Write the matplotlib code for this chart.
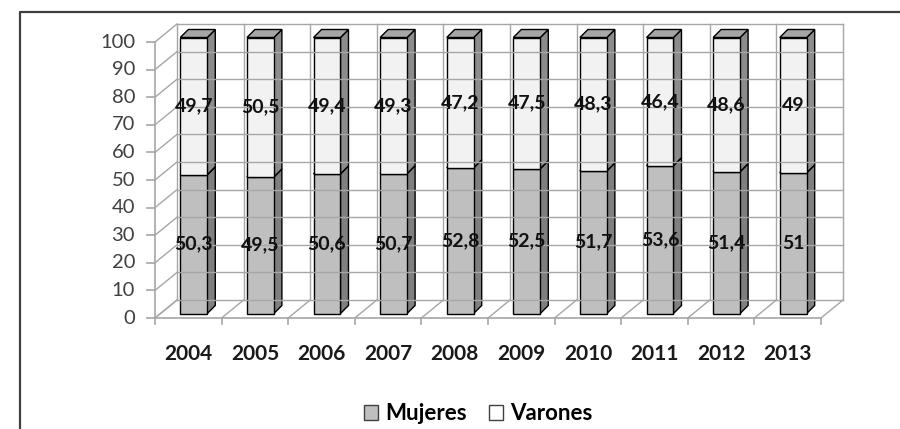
import matplotlib
matplotlib.use("Agg")
import matplotlib.pyplot as plt
from matplotlib.patches import Polygon, Patch
from matplotlib.lines import Line2D

# Datos
years = ["2004", "2005", "2006", "2007", "2008", "2009", "2010", "2011", "2012", "2013"]
mujeres = [50.3, 49.5, 50.6, 50.7, 52.8, 52.5, 51.7, 53.6, 51.4, 51]
varones = [49.7, 50.5, 49.4, 49.3, 47.2, 47.5, 48.3, 46.4, 48.6, 49]
yticks = list(range(0, 101, 10))

def fmt(v):
    s = ("%.1f" % v).rstrip("0").rstrip(".")
    return s.replace(".", ",")

fig = plt.figure(figsize=(9, 4.29), dpi=100)
ax = fig.add_axes([155 / 900, 111 / 429, 666 / 900, 276 / 429])
ax.set_xlim(-0.5, len(years) - 0.5)
ax.set_ylim(0, 100)
ax.axis("off")

# profundidad del efecto 3D (en unidades de datos)
DX = 22 / 66.6
DY = 18 / 2.76
grid_c = "#a6a6a6"
n = len(years)

# pared del fondo
for v in yticks:
    ax.plot([-0.5 + DX, n - 0.5 + DX], [v + DY, v + DY], color=grid_c, lw=1, clip_on=False)
    ax.plot([-0.5, -0.5 + DX], [v, v + DY], color=grid_c, lw=1, clip_on=False)
for k in range(n + 1):
    ax.plot([-0.5 + k + DX] * 2, [DY, 100 + DY], color=grid_c, lw=1, clip_on=False)
    ax.plot([-0.5 + k, -0.5 + k + DX], [0, DY], color=grid_c, lw=1, clip_on=False)

# ejes frontales
ax.plot([-0.5, n - 0.5], [0, 0], color=grid_c, lw=1.2, clip_on=False)
ax.plot([-0.5, -0.5], [0, 100], color=grid_c, lw=1.2, clip_on=False)
for v in yticks:
    ax.plot([-0.5 - 0.12, -0.5], [v, v], color=grid_c, lw=1.2, clip_on=False)
    ax.text(-0.5 - 0.3, v, str(v), ha="right", va="center", fontsize=14.5,
            color="#404040", family="Lato")
for k in range(n + 1):
    ax.plot([-0.5 + k] * 2, [0, -2], color=grid_c, lw=1.2, clip_on=False)
for i, y in enumerate(years):
    ax.text(i, -13, y, ha="center", va="center", fontsize=15, fontweight="bold",
            family="Lato", color="#1a1a1a")

# barras 3D
w = 0.405
bx = 0.25 * DX
by = 0.25 * DY
ddx = 8 / 66.6
ddy = 8 / 2.76
styles = [("#bfbfbf", "#7f7f7f", "#a6a6a6"), ("#f2f2f2", "#8c8c8c", "#a6a6a6")]

for i in range(n):
    bottom = 0
    for vals, (front, side, top) in zip([mujeres, varones], styles):
        v = vals[i]
        xl = i - w / 2 + bx
        xr = i + w / 2 + bx
        y0 = by + bottom
        y1 = by + bottom + v
        ax.add_patch(Polygon([(xr, y0), (xr + ddx, y0 + ddy), (xr + ddx, y1 + ddy), (xr, y1)],
                             closed=True, fc=side, ec="black", lw=1, clip_on=False))
        ax.add_patch(Polygon([(xl, y1), (xl + ddx, y1 + ddy), (xr + ddx, y1 + ddy), (xr, y1)],
                             closed=True, fc=top, ec="black", lw=1, clip_on=False))
        ax.add_patch(Polygon([(xl, y0), (xr, y0), (xr, y1), (xl, y1)],
                             closed=True, fc=front, ec="black", lw=1, clip_on=False))
        ax.text(i + bx, y0 + v / 2, fmt(v), ha="center", va="center", fontsize=14,
                fontweight="bold", family="Lato", color="#111111")
        bottom += v

# borde exterior
fig.add_artist(Line2D([20 / 900, 20 / 900, 1], [0, 1 - 12 / 429, 1 - 12 / 429],
                      transform=fig.transFigure, color="#404040", lw=1.6))

# leyenda
handles = [Patch(fc="#bfbfbf", ec="#404040", label="Mujeres"),
           Patch(fc="#ffffff", ec="#404040", label="Varones")]
fig.legend(handles=handles, loc="center", bbox_to_anchor=(0.531, 0.035), ncol=2,
           frameon=False, handlelength=0.65, handleheight=0.65,
           handletextpad=0.3, columnspacing=1.0,
           prop={"family": "Lato", "size": 16, "weight": "bold"})

fig.savefig("out.png", dpi=100)
